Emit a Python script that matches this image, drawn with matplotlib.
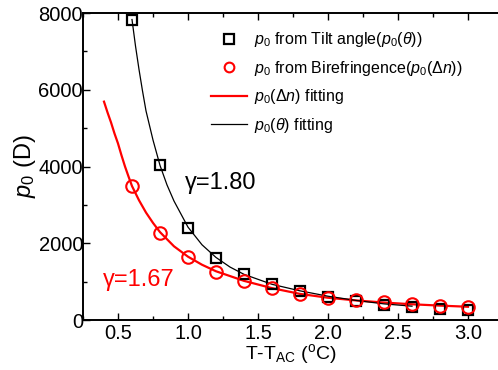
import matplotlib
matplotlib.use("Agg")
import matplotlib.pyplot as plt
from matplotlib.ticker import MultipleLocator

plt.rcParams['font.family'] = ['Liberation Sans', 'DejaVu Sans']
plt.rcParams['mathtext.fontset'] = 'custom'
plt.rcParams['mathtext.rm'] = 'Liberation Sans'
plt.rcParams['mathtext.it'] = 'Liberation Sans:italic'
plt.rcParams['mathtext.bf'] = 'Liberation Sans:bold'

# data
x_pts = [0.6, 0.8, 1.0, 1.2, 1.4, 1.6, 1.8, 2.0, 2.2, 2.4, 2.6, 2.8, 3.0]
p_theta = [7830, 4030, 2400, 1620, 1190, 930, 756, 608, 495, 391, 347, 279, 260]
p_dn = [3490, 2275, 1650, 1260, 1016, 826, 670, 582, 521, 461, 417, 373, 347]

x_fit_dn = [0.4, 0.425, 0.45, 0.475, 0.5, 0.525, 0.55, 0.575, 0.6, 0.65, 0.7, 0.75,
            0.8, 0.9, 1.0, 1.1, 1.2, 1.4, 1.6, 1.8, 2.0, 2.2, 2.4, 2.6, 2.8, 3.0]
fit_dn = [5690, 5410, 5150, 4860, 4600, 4290, 4000, 3740, 3490, 3120, 2800, 2530,
          2290, 1920, 1650, 1440, 1270, 1020, 830, 680, 580, 510, 455, 410, 375, 345]
x_fit_theta = [0.6, 0.625, 0.65, 0.675, 0.7, 0.75, 0.8, 0.85, 0.9, 1.0, 1.1, 1.2,
               1.3, 1.4, 1.6, 1.8, 2.0, 2.2, 2.4, 2.6]
fit_theta = [7830, 7140, 6530, 5970, 5450, 4690, 4030, 3520, 3100, 2420, 1960,
             1630, 1380, 1190, 930, 760, 620, 510, 420, 360]

fig = plt.figure(figsize=(4.98, 3.70), dpi=100)
ax = fig.add_axes([83/498, 50/370, 415/498, 307/370])

l_red, = ax.plot(x_fit_dn, fit_dn, color='red', lw=1.6, zorder=2)
l_blk, = ax.plot(x_fit_theta, fit_theta, color='black', lw=0.9, zorder=2)
s_sq, = ax.plot(x_pts, p_theta, ls='none', marker='s', ms=7.5, mfc='none',
                mec='black', mew=1.6, zorder=3)
s_ci, = ax.plot(x_pts, p_dn, ls='none', marker='o', ms=9, mfc='none',
                mec='red', mew=1.5, zorder=4)

ax.set_xlim(0.25, 0.25 + 415/140)
ax.set_ylim(0, 8000)
ax.xaxis.set_major_locator(MultipleLocator(0.5))
ax.xaxis.set_minor_locator(MultipleLocator(0.25))
ax.yaxis.set_major_locator(MultipleLocator(2000))
ax.yaxis.set_minor_locator(MultipleLocator(1000))
ax.xaxis.set_major_formatter(matplotlib.ticker.FormatStrFormatter('%.1f'))
ax.tick_params(which='both', direction='in', top=True, right=False,
               labelsize=14.5, width=1.0)
ax.tick_params(which='major', length=5)
ax.tick_params(which='minor', length=3)
ax.tick_params(axis='y', pad=0)
ax.tick_params(axis='x', pad=3)
ax.spines['right'].set_visible(False)
for s in ['left', 'bottom', 'top']:
    ax.spines[s].set_linewidth(1.4)

ax.set_xlabel(r'T-T$_{\mathrm{AC}}$ ($^{\mathrm{o}}$C)', fontsize=14, labelpad=-1)
ax.set_ylabel(r'$p_{\mathit{0}}$ (D)', fontsize=17, labelpad=0)

ax.text(0.98, 3420, 'γ=1.80', fontsize=17, color='black')
ax.text(0.39, 880, 'γ=1.67', fontsize=17, color='red')

labels = [r'$p_{\mathit{0}}$ from Tilt angle($p_{\mathit{0}}(\theta)$)',
          r'$p_{\mathit{0}}$ from Birefringence($p_{\mathit{0}}(\Delta n)$)',
          r'$p_{\mathit{0}}(\Delta n)$ fitting',
          r'$p_{\mathit{0}}(\theta)$ fitting']
leg = ax.legend([s_sq, s_ci, l_red, l_blk], labels, loc='upper left',
                bbox_to_anchor=(0.294, 0.965), frameon=False, fontsize=11.5,
                handlelength=2.2, handletextpad=0.45, labelspacing=0.6,
                borderaxespad=0)
for h in leg.legend_handles[:2]:
    h.set_markersize(7)

fig.savefig('out.png', dpi=100)
